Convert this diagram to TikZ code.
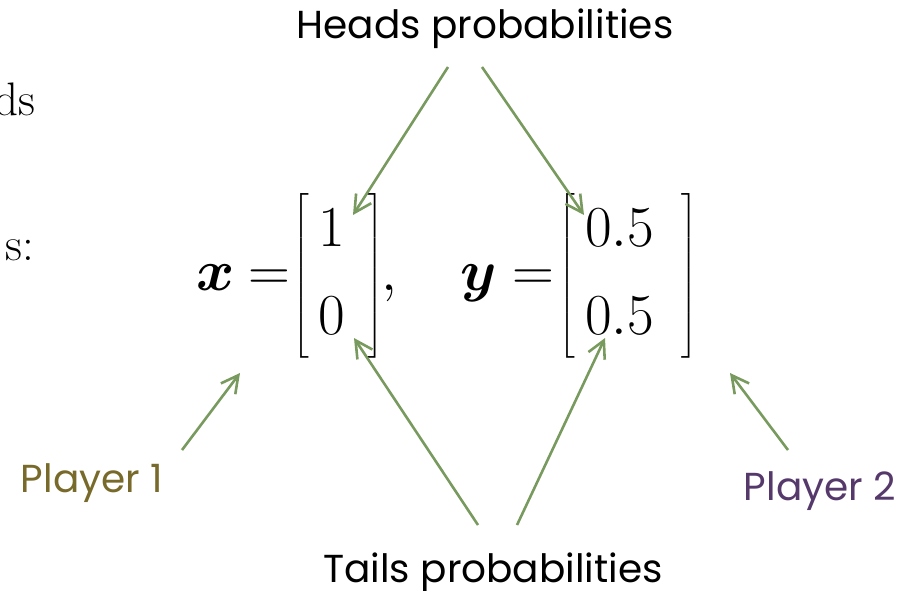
\RequirePackage{fix-cm}
\documentclass[tikz,border=0pt]{standalone}
\usepackage{amsmath}
\usepackage{bm}
\usepackage{fontspec}
\usepackage{tikz}
\usetikzlibrary{arrows.meta,calc,positioning}
\newfontfamily\CoinLabelFont{Poppins}
\definecolor{CoinGreen}{HTML}{789A5E}
\definecolor{CoinOne}{HTML}{786A2A}
\definecolor{CoinTwo}{HTML}{56396B}

\tikzset{
  coin label/.style={inner sep=0pt,anchor=base,font=\CoinLabelFont\fontsize{39}{44}\selectfont},
  coin arrow/.style={CoinGreen,line width=2.6pt,-{Straight Barb[length=17pt,width=18pt,line width=2.6pt]}},
  slide word/.style={inner sep=0pt,anchor=base east,font=\fontsize{47}{52}\selectfont},
}

\begin{document}
\begin{tikzpicture}[x=1pt,y=-1pt]
        \useasboundingbox (0,0) rectangle (910,590);

        % cut-off words from the slide text
        \node[slide word] (wordA) at (36,115) {ds};
        \node[slide word] (wordB) at (34,260) {s:};

        \node[inner sep=0pt,anchor=west,font=\fontsize{58}{70}\selectfont]
          (eqn) at (196,276)
          {$\bm{x}\kern14pt{=}\kern-7pt
            \left[\kern9pt\begin{matrix}1\\[18pt]0\end{matrix}\kern22pt\right]\kern-11.6pt,
            \kern53.7pt
            \bm{y}\kern14.9pt{=}\kern-4.9pt
            \left[\kern10pt\begin{matrix}0.5\\[18pt]0.5\end{matrix}\kern27pt\right]$};

        \node[coin label] (heads) at (485,38) {Heads probabilities};
        \node[coin label] (tails) at (493,582) {Tails probabilities};
        \node[coin label,text=CoinOne] (playerA) at (92,492) {Player 1};
        \node[coin label,text=CoinTwo] (playerB) at (820,500) {Player 2};

        % arrow ends
        \coordinate (headsL) at (448,67);
        \coordinate (headsR) at (482,67);
        \coordinate (tailsL) at (478,525);
        \coordinate (tailsR) at (517,525);
        \coordinate (playerAtip) at (182,450);
        \coordinate (playerBtip) at (788,450);
        \coordinate (xTop) at (353,215);
        \coordinate (xBot) at (354,338);
        \coordinate (yTop) at (584,215);
        \coordinate (yBot) at (605,338);
        \coordinate (xVec) at (240,373);
        \coordinate (yVec) at (730,373);

        \draw[coin arrow] (headsL) -- (xTop);
        \draw[coin arrow] (headsR) -- (yTop);
        \draw[coin arrow] (tailsL) -- (xBot);
        \draw[coin arrow] (tailsR) -- (yBot);
        \draw[coin arrow] (playerAtip) -- (xVec);
        \draw[coin arrow] (playerBtip) -- (yVec);
      \end{tikzpicture}
\end{document}
